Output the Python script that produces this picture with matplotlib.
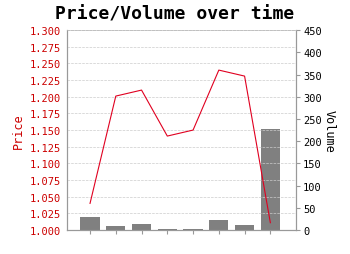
import matplotlib.pyplot as plt
import numpy as np

plt.rcParams['font.family'] = 'DejaVu Sans Mono'

# Data
periods = list(range(8))
price = [1.040, 1.201, 1.210, 1.141, 1.150, 1.240, 1.231, 1.011]
volume = [29, 8, 14, 2, 2, 22, 11, 228]

fig = plt.figure(figsize=(3.5, 2.55), dpi=100)
ax1 = fig.add_axes([0.191, 0.094, 0.655, 0.784])
ax2 = ax1.twinx()

# Volume bars behind the price line
ax2.bar(periods, volume, width=0.75, color='#808080', zorder=1)
ax2.set_ylim(0, 450)
ax2.set_yticks(np.arange(0, 451, 50))
ax2.set_ylabel('Volume', rotation=270, labelpad=10, fontsize=8.5)

ax1.set_zorder(ax2.get_zorder() + 1)
ax1.patch.set_visible(False)
ax1.plot(periods, price, color='#e00020', linewidth=0.8)
ax1.set_ylim(1.0, 1.3)
ax1.set_yticks(np.arange(1.0, 1.3001, 0.025))
ax1.set_yticklabels([f'{v:.3f}' for v in np.arange(1.0, 1.3001, 0.025)])
ax1.set_ylabel('Price', color='#cc0000', fontsize=8.5, labelpad=4)
ax1.set_xlim(-0.9, 8.0)
ax1.set_xticks(periods)
ax1.set_xticklabels([])

ax1.grid(True, axis='y', color='#cccccc', linestyle='--', linewidth=0.5)
ax1.tick_params(axis='y', colors='#cc0000', labelsize=7.5, length=0, pad=4)
ax1.tick_params(axis='x', length=3, color='#999999')
ax2.tick_params(axis='y', labelsize=7.5, length=3, color='#999999', pad=2)

for ax in (ax1, ax2):
    for s in ax.spines.values():
        s.set_color('#999999')
        s.set_linewidth(0.8)
    ax.spines['top'].set_color('#bbbbbb')
    ax.spines['top'].set_linestyle('--')
    ax.spines['top'].set_linewidth(0.5)

fig.text(0.5, 0.922, 'Price/Volume over time', ha='center', va='baseline',
         fontweight='bold', fontsize=13)

fig.savefig('out.png', dpi=100)
